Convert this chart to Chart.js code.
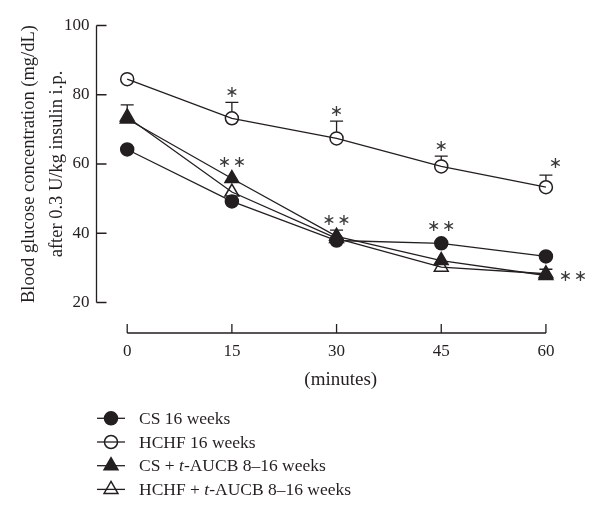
<!DOCTYPE html>
<html><head><meta charset="utf-8">
<script src="https://cdn.jsdelivr.net/npm/chart.js@4.4.1/dist/chart.umd.min.js"></script>
<style>html,body{margin:0;padding:0;background:#fff}canvas{display:block}</style>
</head><body>
<canvas id="c" width="600" height="520"></canvas>
<script>
// ---- data ----
const minutes = [0, 15, 30, 45, 60];
const csWeeks = [64.2, 49.2, 37.9, 37.1, 33.3];
const hchfWeeks = [84.5, 73.2, 67.4, 59.3, 53.3];
const csAucb = [73.0, 55.8, 39.1, 32.1, 27.8];
const hchfAucb = [73.6, 51.9, 38.5, 30.2, 28.3];
const hchfErr = [0, 4.6, 5.0, 3.0, 3.5];
const csAucbErr = [4.1, 0, 1.8, 0, 1.8];
const hchfSig = ['', '*', '*', '*', '*'];
const lowerSig = ['', '**', '**', '**', '**'];
const yTicks = [20, 40, 60, 80, 100];
const seriesNames = [
  [['CS 16 weeks', false]],
  [['HCHF 16 weeks', false]],
  [['CS + ', false], ['t', true], ['-AUCB 8\u201316 weeks', false]],
  [['HCHF + ', false], ['t', true], ['-AUCB 8\u201316 weeks', false]]
];
const yTitle = ['Blood glucose concentration (mg/dL)', 'after 0.3 U/kg insulin i.p.'];
const xTitle = '(minutes)';

const INK = '#231f20';
const FONT = "'Liberation Serif', 'Times New Roman', serif";

const styles = [
  {pointStyle: 'circle', radius: 6.5, fill: INK},
  {pointStyle: 'circle', radius: 6.5, fill: 'rgba(0,0,0,0)'},
  {pointStyle: 'triangle', radius: 8, fill: INK},
  {pointStyle: 'triangle', radius: 8, fill: 'rgba(0,0,0,0)'}
];
const seriesValues = [csWeeks, hchfWeeks, csAucb, hchfAucb];

function toPts(vals) { return vals.map((v, i) => ({x: minutes[i], y: v})); }

const datasets = seriesValues.map((vals, k) => ({
  label: seriesNames[k].map(s => s[0]).join(''),
  data: toPts(vals),
  borderColor: INK,
  borderWidth: 1.3,
  backgroundColor: styles[k].fill,
  pointStyle: styles[k].pointStyle,
  pointRadius: styles[k].radius,
  pointHoverRadius: styles[k].radius,
  pointBorderColor: INK,
  pointBackgroundColor: styles[k].fill,
  pointBorderWidth: 1.5,
  tension: 0,
  fill: false,
  clip: false
}));

function drawMarker(ctx, style, r, fill, x, y) {
  ctx.beginPath();
  if (style === 'circle') {
    ctx.arc(x, y, r, 0, Math.PI * 2);
  } else {
    let rad = 0;
    ctx.moveTo(x + Math.sin(rad) * r, y - Math.cos(rad) * r);
    rad += 2 * Math.PI / 3;
    ctx.lineTo(x + Math.sin(rad) * r, y - Math.cos(rad) * r);
    rad += 2 * Math.PI / 3;
    ctx.lineTo(x + Math.sin(rad) * r, y - Math.cos(rad) * r);
    ctx.closePath();
  }
  ctx.fillStyle = fill;
  ctx.fill();
  ctx.lineWidth = 1.5;
  ctx.strokeStyle = INK;
  ctx.stroke();
}

const axesPlugin = {
  id: 'customAxes',
  beforeDatasetsDraw(chart) {
    const {ctx, chartArea, scales: {x, y}} = chart;
    ctx.save();
    ctx.strokeStyle = INK;
    ctx.lineWidth = 1.3;
    ctx.beginPath();
    const yTop = y.getPixelForValue(yTicks[yTicks.length - 1]);
    const yBot = y.getPixelForValue(yTicks[0]);
    ctx.moveTo(chartArea.left, yTop);
    ctx.lineTo(chartArea.left, yBot);
    yTicks.forEach(v => {
      const p = y.getPixelForValue(v);
      ctx.moveTo(chartArea.left, p);
      ctx.lineTo(chartArea.left + 10, p);
    });
    const ax = chartArea.bottom + 30.5;
    ctx.moveTo(x.getPixelForValue(minutes[0]), ax);
    ctx.lineTo(x.getPixelForValue(minutes[minutes.length - 1]), ax);
    minutes.forEach(m => {
      const p = x.getPixelForValue(m);
      ctx.moveTo(p, ax);
      ctx.lineTo(p, ax - 9);
    });
    ctx.stroke();
    // error bars (upper only)
    const errSets = [[hchfWeeks, hchfErr, styles[1].radius], [csAucb, csAucbErr, styles[2].radius]];
    ctx.lineWidth = 1.3;
    ctx.beginPath();
    errSets.forEach(([vals, errs, r]) => {
      vals.forEach((v, i) => {
        if (!errs[i]) return;
        const px = x.getPixelForValue(minutes[i]);
        const py = y.getPixelForValue(v);
        const pt = y.getPixelForValue(v + errs[i]);
        ctx.moveTo(px, py - r);
        ctx.lineTo(px, pt);
        ctx.moveTo(px - 6.5, pt);
        ctx.lineTo(px + 6.5, pt);
      });
    });
    ctx.stroke();
    ctx.restore();
  },
  afterDatasetsDraw(chart) {
    const {ctx, scales: {x, y}} = chart;
    ctx.save();
    ctx.fillStyle = '#3a3a3a';
    ctx.font = "16px 'DejaVu Sans'";
    ctx.textAlign = 'center';
    ctx.textBaseline = 'middle';
    const drawStars = (s, cx, cy) => {
      const n = s.length;
      for (let j = 0; j < n; j++) {
        ctx.fillText('\u2217', cx + (j - (n - 1) / 2) * 15, cy);
      }
    };
    const last = minutes.length - 1;
    hchfSig.forEach((s, i) => {
      if (!s) return;
      const px = x.getPixelForValue(minutes[i]);
      const cap = y.getPixelForValue(hchfWeeks[i] + hchfErr[i]);
      if (i === last) drawStars(s, px + 9.5, cap - 11);
      else drawStars(s, px, cap - 9.5);
    });
    lowerSig.forEach((s, i) => {
      if (!s) return;
      const px = x.getPixelForValue(minutes[i]);
      if (i === last) {
        drawStars(s, px + 27, y.getPixelForValue(csAucb[i]) + 1);
        return;
      }
      const topVal = Math.max(csWeeks[i], csAucb[i], hchfAucb[i]);
      let yy = y.getPixelForValue(topVal) - 16;
      if (csAucbErr[i]) yy = Math.min(yy, y.getPixelForValue(csAucb[i] + csAucbErr[i]) - 8.5);
      drawStars(s, px, yy);
    });
    ctx.restore();
  },
  afterDraw(chart) {
    const {ctx} = chart;
    ctx.save();
    const y0 = 418.3, dy = 23.7;
    seriesNames.forEach((parts, k) => {
      const ry = y0 + k * dy;
      ctx.strokeStyle = INK;
      ctx.lineWidth = 1.3;
      ctx.beginPath();
      ctx.moveTo(97, ry);
      ctx.lineTo(125, ry);
      ctx.stroke();
      drawMarker(ctx, styles[k].pointStyle, styles[k].radius, styles[k].fill, 111, ry);
      let tx = 139;
      ctx.fillStyle = INK;
      ctx.textBaseline = 'middle';
      ctx.textAlign = 'left';
      parts.forEach(([t, it]) => {
        ctx.font = (it ? 'italic ' : '') + '17.5px ' + FONT;
        ctx.fillText(t, tx, ry + 1);
        tx += ctx.measureText(t).width;
      });
    });
    ctx.restore();
  }
};

new Chart(document.getElementById('c'), {
  type: 'line',
  data: {datasets},
  plugins: [axesPlugin],
  options: {
    responsive: false,
    animation: false,
    events: [],
    layout: {padding: {left: 4, right: 15, top: 25.5, bottom: 128.3}},
    plugins: {legend: {display: false}, tooltip: {enabled: false}},
    scales: {
      x: {
        type: 'linear',
        min: -4.4,
        max: 65.6,
        offset: false,
        border: {display: false},
        grid: {display: false, drawTicks: false},
        afterBuildTicks: s => { s.ticks = minutes.map(v => ({value: v})); },
        ticks: {
          autoSkip: false, maxRotation: 0, padding: 39,
          color: INK, font: {family: FONT, size: 17},
          callback: v => String(v)
        },
        title: {display: true, text: xTitle, color: INK, font: {family: FONT, size: 19}, padding: {top: -32, bottom: 0}}
      },
      y: {
        type: 'linear',
        min: yTicks[0],
        max: yTicks[yTicks.length - 1],
        border: {display: false},
        grid: {display: false, drawTicks: false},
        afterBuildTicks: s => { s.ticks = yTicks.map(v => ({value: v})); },
        ticks: {padding: 7, color: INK, font: {family: FONT, size: 17}},
        title: {display: true, text: yTitle, color: INK, font: {family: FONT, size: 18.5, lineHeight: 1.5}, padding: {top: 11.5, bottom: -14}}
      }
    }
  }
});
</script>
</body></html>
